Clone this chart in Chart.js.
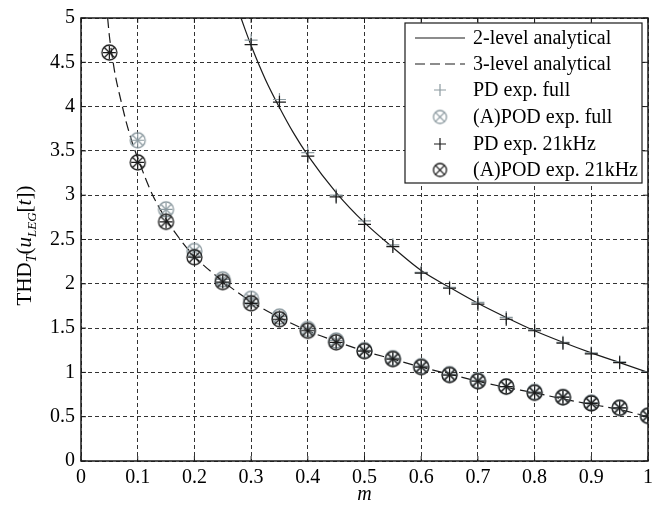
<!DOCTYPE html>
<html>
<head>
<meta charset="utf-8">
<script src="https://cdn.jsdelivr.net/npm/chart.js@4.4.1/dist/chart.umd.min.js"></script>
<style>
  html, body { margin: 0; padding: 0; background: #fff; }
  #wrap { width: 663px; height: 506px; }
</style>
</head>
<body>
<div id="wrap"><canvas id="thdChart" width="663" height="506"></canvas></div>
<script>
// analytical curves
const m2Curve   = [0.28, 0.29, 0.30, 0.325, 0.35, 0.375, 0.40, 0.45, 0.50, 0.55, 0.60, 0.65, 0.70, 0.75, 0.80, 0.85, 0.90, 0.95, 1.00];
const thd2Curve = [5.04, 4.86, 4.69, 4.31, 3.99, 3.70, 3.45, 3.03, 2.69, 2.41, 2.15, 1.96, 1.78, 1.62, 1.47, 1.34, 1.22, 1.11, 1.00];

const m3Curve   = [0.047, 0.05, 0.055, 0.06, 0.07, 0.08, 0.09, 0.10, 0.125, 0.15, 0.175, 0.20, 0.25, 0.30, 0.35, 0.40, 0.45, 0.50, 0.55, 0.60, 0.65, 0.70, 0.75, 0.80, 0.85, 0.90, 0.95, 1.00];
const thd3Curve = [5.00, 4.80, 4.57, 4.37, 4.08, 3.82, 3.60, 3.42, 3.02, 2.73, 2.50, 2.31, 2.03, 1.80, 1.62, 1.47, 1.35, 1.24, 1.15, 1.06, 0.98, 0.90, 0.83, 0.77, 0.70, 0.64, 0.58, 0.50];

// experiments, 2-level (PD)
const mExp2   = [0.30, 0.35, 0.40, 0.45, 0.50, 0.55, 0.60, 0.65, 0.70, 0.75, 0.80, 0.85, 0.90, 0.95, 1.00];
const pdFull  = [4.75, 4.08, 3.48, 3.00, 2.71, 2.44, 2.13, 1.96, 1.79, 1.62, 1.48, 1.34, 1.22, 1.12, 1.01];
const pdFast  = [4.70, 4.05, 3.44, 2.98, 2.67, 2.42, 2.12, 1.95, 1.77, 1.60, 1.47, 1.33, 1.21, 1.11, 1.00];

// experiments, 3-level ((A)POD)
const mFull3   = [0.10, 0.15, 0.20, 0.25, 0.30, 0.35, 0.40, 0.45, 0.50, 0.55, 0.60, 0.65, 0.70, 0.75, 0.80, 0.85, 0.90, 0.95, 1.00];
const apodFull = [3.62, 2.84, 2.37, 2.05, 1.83, 1.63, 1.49, 1.36, 1.25, 1.16, 1.07, 0.98, 0.91, 0.84, 0.78, 0.72, 0.66, 0.60, 0.51];
const mFast3   = [0.05, 0.10, 0.15, 0.20, 0.25, 0.30, 0.35, 0.40, 0.45, 0.50, 0.55, 0.60, 0.65, 0.70, 0.75, 0.80, 0.85, 0.90, 0.95, 1.00];
const apodFast = [4.61, 3.37, 2.70, 2.30, 2.02, 1.78, 1.60, 1.47, 1.34, 1.24, 1.15, 1.06, 0.97, 0.90, 0.84, 0.77, 0.72, 0.65, 0.60, 0.51];

const xTicks = [0, 0.1, 0.2, 0.3, 0.4, 0.5, 0.6, 0.7, 0.8, 0.9, 1];
const yTicks = [0, 0.5, 1, 1.5, 2, 2.5, 3, 3.5, 4, 4.5, 5];

const legendLabels = ["2-level analytical", "3-level analytical", "PD exp. full", "(A)POD exp. full", "PD exp. 21kHz", "(A)POD exp. 21kHz"];

const GRAY = "#8c9aa0";
const INK = "#1a1a1a";
const FONT = "Liberation Serif";

function pts(xs, ys) {
  return xs.map((x, i) => ({ x: x, y: ys[i] }));
}

// circle with a cross inside
function markerImage(color, r) {
  const s = Math.ceil(r * 2 + 4);
  const c = document.createElement("canvas");
  c.width = s; c.height = s;
  const g = c.getContext("2d");
  const o = s / 2;
  g.strokeStyle = color;
  g.lineWidth = 1.3;
  g.beginPath();
  g.arc(o, o, r, 0, Math.PI * 2);
  g.stroke();
  const d = r * Math.SQRT1_2;
  g.beginPath();
  g.moveTo(o - d, o - d); g.lineTo(o + d, o + d);
  g.moveTo(o + d, o - d); g.lineTo(o - d, o + d);
  g.stroke();
  return c;
}

const grayMark = markerImage(GRAY, 7.5);
const blackMark = markerImage(INK, 7.5);

// y title with subscripts, legend box and inward ticks
const decorPlugin = {
  id: "decor",
  afterDraw(chart) {
    const ctx = chart.ctx;
    const a = chart.chartArea;
    const xs = chart.scales.x, ys = chart.scales.y;

    // box + inward ticks
    ctx.save();
    ctx.strokeStyle = INK;
    ctx.lineWidth = 1.5;
    ctx.setLineDash([]);
    ctx.strokeRect(a.left, a.top, a.right - a.left, a.bottom - a.top);
    ctx.lineWidth = 1;
    ctx.beginPath();
    xTicks.forEach((v) => {
      const px = xs.getPixelForValue(v);
      ctx.moveTo(px, a.bottom); ctx.lineTo(px, a.bottom - 5);
      ctx.moveTo(px, a.top); ctx.lineTo(px, a.top + 5);
    });
    yTicks.forEach((v) => {
      const py = ys.getPixelForValue(v);
      ctx.moveTo(a.left, py); ctx.lineTo(a.left + 5, py);
      ctx.moveTo(a.right, py); ctx.lineTo(a.right - 5, py);
    });
    ctx.stroke();

    // x title
    ctx.fillStyle = "#000";
    ctx.font = "italic 20px " + FONT;
    ctx.textAlign = "center";
    ctx.textBaseline = "middle";
    ctx.fillText("m", (a.left + a.right) / 2, 495);

    // y title: THD_T(u_LEG[t])
    const parts = [
      { t: "THD", f: "21px " + FONT, dy: 0 },
      { t: "T", f: "italic 14px " + FONT, dy: 5 },
      { t: "(", f: "21px " + FONT, dy: 0 },
      { t: "u", f: "italic 21px " + FONT, dy: 0 },
      { t: "LEG", f: "italic 13px " + FONT, dy: 5 },
      { t: "[", f: "21px " + FONT, dy: 0 },
      { t: "t", f: "italic 21px " + FONT, dy: 0 },
      { t: "])", f: "21px " + FONT, dy: 0 }
    ];
    let total = 0;
    parts.forEach((p) => { ctx.font = p.f; p.w = ctx.measureText(p.t).width; total += p.w; });
    ctx.save();
    ctx.translate(31, (a.top + a.bottom) / 2 + 6);
    ctx.rotate(-Math.PI / 2);
    ctx.textAlign = "left";
    ctx.textBaseline = "alphabetic";
    let cx = -total / 2;
    parts.forEach((p) => {
      ctx.font = p.f;
      ctx.fillText(p.t, cx, p.dy);
      cx += p.w;
    });
    ctx.restore();

    // legend
    const bx = 405, by = 23, bw = 237, bh = 160;
    ctx.fillStyle = "#fff";
    ctx.fillRect(bx, by, bw, bh);
    ctx.strokeStyle = INK;
    ctx.lineWidth = 1.2;
    ctx.strokeRect(bx, by, bw, bh);
    const rowY = [38, 64, 90, 117, 144, 170];
    const sx0 = 415, sx1 = 465, sc = 440;
    legendLabels.forEach((lab, i) => {
      const y = rowY[i];
      ctx.save();
      if (i < 2) {
        ctx.strokeStyle = INK;
        ctx.lineWidth = 1.2;
        ctx.setLineDash(i === 1 ? [10, 5] : []);
        ctx.beginPath(); ctx.moveTo(sx0, y); ctx.lineTo(sx1, y); ctx.stroke();
      } else if (i === 2 || i === 4) {
        ctx.strokeStyle = i === 2 ? GRAY : INK;
        ctx.lineWidth = 1.2;
        ctx.beginPath();
        ctx.moveTo(sc - 6, y); ctx.lineTo(sc + 6, y);
        ctx.moveTo(sc, y - 6); ctx.lineTo(sc, y + 6);
        ctx.stroke();
      } else {
        const img = i === 3 ? markerImage(GRAY, 6.5) : markerImage(INK, 6.5);
        ctx.drawImage(img, sc - img.width / 2, y - img.height / 2);
      }
      ctx.restore();
      ctx.fillStyle = "#000";
      ctx.font = "20px " + FONT;
      ctx.textAlign = "left";
      ctx.textBaseline = "middle";
      ctx.fillText(lab, 473, y + 1);
    });
    ctx.restore();
  }
};

const ctx = document.getElementById("thdChart").getContext("2d");
new Chart(ctx, {
  type: "line",
  data: {
    datasets: [
      {
        label: legendLabels[0],
        data: pts(m2Curve, thd2Curve),
        borderColor: INK, borderWidth: 1.2,
        pointRadius: 0, cubicInterpolationMode: "monotone",
        order: 5
      },
      {
        label: legendLabels[1],
        data: pts(m3Curve, thd3Curve),
        borderColor: INK, borderWidth: 1.2, borderDash: [10, 5],
        pointRadius: 0, cubicInterpolationMode: "monotone",
        order: 4
      },
      {
        label: legendLabels[2],
        // + markers sit on both curves
        data: pts(mExp2, pdFull).concat(pts(mFull3, apodFull)),
        showLine: false,
        pointStyle: "cross", pointRadius: 6.5, pointBorderWidth: 1.2,
        borderColor: GRAY, backgroundColor: GRAY,
        order: 3
      },
      {
        label: legendLabels[3],
        data: pts(mFull3, apodFull),
        showLine: false,
        pointStyle: grayMark,
        order: 2
      },
      {
        label: legendLabels[4],
        data: pts(mExp2, pdFast).concat(pts(mFast3, apodFast)),
        showLine: false,
        pointStyle: "cross", pointRadius: 6.5, pointBorderWidth: 1.2,
        borderColor: INK, backgroundColor: INK,
        order: 1
      },
      {
        label: legendLabels[5],
        data: pts(mFast3, apodFast),
        showLine: false,
        pointStyle: blackMark,
        order: 0
      }
    ]
  },
  options: {
    responsive: false,
    animation: false,
    devicePixelRatio: 1,
    events: [],
    layout: { padding: { left: 0, top: 13, right: 15, bottom: 0 } },
    plugins: {
      legend: { display: false },
      tooltip: { enabled: false },
      title: { display: false }
    },
    scales: {
      x: {
        type: "linear", min: 0, max: 1,
        afterBuildTicks: (s) => { s.ticks = xTicks.map((v) => ({ value: v })); },
        afterFit: (s) => { s.height = 45; },
        grid: { color: "#333", lineWidth: 1, drawTicks: false },
        border: { display: false, dash: [4, 3] },
        ticks: {
          color: "#000", padding: 5, maxRotation: 0,
          font: { family: FONT, size: 20 },
          callback: (v) => String(v)
        }
      },
      y: {
        type: "linear", min: 0, max: 5,
        afterBuildTicks: (s) => { s.ticks = yTicks.map((v) => ({ value: v })); },
        afterFit: (s) => { s.width = 81; },
        grid: { color: "#333", lineWidth: 1, drawTicks: false },
        border: { display: false, dash: [4, 3] },
        ticks: {
          color: "#000", padding: 6,
          font: { family: FONT, size: 20 },
          callback: (v) => String(v)
        }
      }
    }
  },
  plugins: [decorPlugin]
});
</script>
</body>
</html>
